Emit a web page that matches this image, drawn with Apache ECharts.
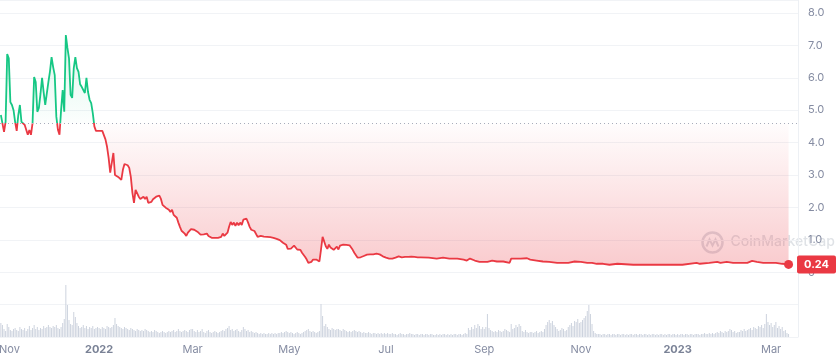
<!DOCTYPE html>
<html><head><meta charset="utf-8">
<script src="https://cdn.jsdelivr.net/npm/echarts@6/dist/echarts.min.js"></script>
<style>html,body{margin:0;padding:0;background:#fff}#c{width:836px;height:359px}</style>
</head><body><div id="c"></div>
<script>
// ---- data ----
const prices = [
['2021-10-31',4.85],['2021-11-01',4.9],['2021-11-02',4.33],['2021-11-03',4.65],['2021-11-04',6.73],['2021-11-05',6.6],
['2021-11-06',5.25],['2021-11-07',5.16],['2021-11-08',5.0],['2021-11-09',4.64],['2021-11-10',4.36],['2021-11-11',4.85],
['2021-11-12',5.16],['2021-11-13',4.64],['2021-11-14',4.6],['2021-11-15',4.55],['2021-11-16',4.55],['2021-11-17',4.24],
['2021-11-18',4.39],['2021-11-19',4.24],['2021-11-20',4.6],['2021-11-21',6.02],['2021-11-22',5.87],['2021-11-23',4.95],
['2021-11-24',5.07],['2021-11-25',5.5],['2021-11-26',6.0],['2021-11-27',5.56],['2021-11-28',5.16],['2021-11-29',5.22],
['2021-11-30',5.87],['2021-12-01',6.2],['2021-12-02',6.64],['2021-12-03',6.33],['2021-12-04',6.08],['2021-12-05',4.8],
['2021-12-06',4.4],['2021-12-07',4.24],['2021-12-08',5.0],['2021-12-09',5.62],['2021-12-10',4.95],['2021-12-11',7.32],
['2021-12-12',6.92],['2021-12-13',6.6],['2021-12-14',5.47],['2021-12-15',5.38],['2021-12-16',6.3],['2021-12-17',6.64],
['2021-12-18',6.3],['2021-12-19',6.18],['2021-12-20',5.8],['2021-12-21',5.72],['2021-12-22',5.78],['2021-12-23',5.53],
['2021-12-24',6.0],['2021-12-25',5.56],['2021-12-26',5.32],['2021-12-27',5.22],['2021-12-28',4.91],['2021-12-29',4.5],
['2021-12-30',4.36],['2021-12-31',4.36],['2022-01-01',4.36],['2022-01-02',4.36],['2022-01-03',4.36],['2022-01-04',4.3],
['2022-01-05',4.1],['2022-01-06',3.87],['2022-01-07',3.53],['2022-01-08',3.07],['2022-01-09',3.1],['2022-01-10',3.68],
['2022-01-11',3.0],['2022-01-12',2.97],['2022-01-13',2.94],['2022-01-14',3.0],['2022-01-15',2.85],['2022-01-16',3.16],
['2022-01-17',3.34],['2022-01-18',3.37],['2022-01-19',3.3],['2022-01-20',3.22],['2022-01-21',2.94],['2022-01-22',2.45],
['2022-01-23',2.14],['2022-01-24',2.54],['2022-01-25',2.6],['2022-01-26',2.33],['2022-01-27',2.26],['2022-01-28',2.3],
['2022-01-29',2.33],['2022-01-30',2.26],['2022-01-31',2.33],['2022-02-01',2.14],['2022-02-02',2.14],['2022-02-03',2.17],
['2022-02-04',2.25],['2022-02-05',2.3],['2022-02-06',2.33],['2022-02-07',2.35],['2022-02-08',2.36],['2022-02-09',2.26],
['2022-02-10',2.08],['2022-02-11',2.05],['2022-02-12',1.99],['2022-02-13',1.95],['2022-02-14',1.93],['2022-02-15',1.86],
['2022-02-16',1.93],['2022-02-17',1.77],['2022-02-18',1.72],['2022-02-19',1.68],['2022-02-20',1.53],['2022-02-21',1.4],
['2022-02-22',1.28],['2022-02-23',1.22],['2022-02-24',1.19],['2022-02-25',1.12],['2022-02-26',1.22],['2022-02-27',1.28],
['2022-02-28',1.33],['2022-03-01',1.37],['2022-03-02',1.31],['2022-03-03',1.27],['2022-03-04',1.25],['2022-03-05',1.22],
['2022-03-06',1.16],['2022-03-07',1.22],['2022-03-08',1.17],['2022-03-09',1.12],['2022-03-10',1.19],['2022-03-11',1.12],
['2022-03-12',1.08],['2022-03-13',1.06],['2022-03-14',1.06],['2022-03-15',1.06],['2022-03-16',1.06],['2022-03-17',1.06],
['2022-03-18',1.08],['2022-03-19',1.09],['2022-03-20',1.19],['2022-03-21',1.12],['2022-03-22',1.15],['2022-03-23',1.22],
['2022-03-24',1.4],['2022-03-25',1.55],['2022-03-26',1.46],['2022-03-27',1.53],['2022-03-28',1.43],['2022-03-29',1.53],
['2022-03-30',1.45],['2022-03-31',1.53],['2022-04-01',1.46],['2022-04-02',1.62],['2022-04-03',1.65],['2022-04-04',1.65],
['2022-04-05',1.53],['2022-04-06',1.4],['2022-04-07',1.31],['2022-04-08',1.28],['2022-04-09',1.27],['2022-04-10',1.25],
['2022-04-11',1.09],['2022-04-12',1.1],['2022-04-13',1.12],['2022-04-14',1.09],['2022-04-15',1.1],['2022-04-16',1.12],
['2022-04-17',1.09],['2022-04-18',1.06],['2022-04-19',1.08],['2022-04-20',1.09],['2022-04-21',1.06],['2022-04-22',1.05],
['2022-04-23',1.03],['2022-04-24',1.0],['2022-04-25',0.99],['2022-04-26',0.97],['2022-04-27',0.91],['2022-04-28',0.88],
['2022-04-29',0.85],['2022-04-30',0.72],['2022-05-01',0.72],['2022-05-02',0.73],['2022-05-03',0.75],['2022-05-04',0.82],
['2022-05-05',0.79],['2022-05-06',0.7],['2022-05-07',0.66],['2022-05-08',0.69],['2022-05-09',0.6],['2022-05-10',0.54],
['2022-05-11',0.47],['2022-05-12',0.39],['2022-05-13',0.29],['2022-05-14',0.31],['2022-05-15',0.32],['2022-05-16',0.39],
['2022-05-17',0.36],['2022-05-18',0.39],['2022-05-19',0.38],['2022-05-20',0.33],['2022-05-21',0.7],['2022-05-22',1.09],
['2022-05-23',0.95],['2022-05-24',0.8],['2022-05-25',0.72],['2022-05-26',0.85],['2022-05-27',0.76],['2022-05-28',0.72],
['2022-05-29',0.69],['2022-05-30',0.63],['2022-05-31',0.79],['2022-06-01',0.7],['2022-06-02',0.82],['2022-06-03',0.83],
['2022-06-04',0.85],['2022-06-05',0.82],['2022-06-06',0.84],['2022-06-07',0.85],['2022-06-08',0.83],['2022-06-09',0.82],
['2022-06-10',0.69],['2022-06-11',0.6],['2022-06-12',0.54],['2022-06-13',0.45],['2022-06-14',0.45],['2022-06-15',0.46],
['2022-06-16',0.48],['2022-06-17',0.5],['2022-06-18',0.52],['2022-06-19',0.54],['2022-06-20',0.53],['2022-06-21',0.55],
['2022-06-22',0.57],['2022-06-23',0.55],['2022-06-24',0.56],['2022-06-25',0.57],['2022-06-26',0.56],['2022-06-27',0.55],
['2022-06-28',0.52],['2022-06-29',0.49],['2022-06-30',0.47],['2022-07-01',0.45],['2022-07-02',0.44],['2022-07-03',0.42],
['2022-07-04',0.42],['2022-07-05',0.42],['2022-07-06',0.43],['2022-07-07',0.45],['2022-07-08',0.51],['2022-07-09',0.49],
['2022-07-10',0.48],['2022-07-11',0.46],['2022-07-12',0.45],['2022-07-13',0.47],['2022-07-14',0.48],['2022-07-15',0.47],
['2022-07-16',0.49],['2022-07-17',0.48],['2022-07-18',0.48],['2022-07-19',0.47],['2022-07-20',0.45],['2022-07-21',0.46],
['2022-07-22',0.47],['2022-07-23',0.46],['2022-07-24',0.45],['2022-07-28',0.45],['2022-08-02',0.42],['2022-08-06',0.45],
['2022-08-10',0.42],['2022-08-15',0.42],['2022-08-19',0.39],['2022-08-21',0.36],['2022-08-23',0.42],['2022-08-26',0.36],
['2022-08-29',0.32],['2022-09-03',0.32],['2022-09-06',0.36],['2022-09-09',0.33],['2022-09-13',0.33],['2022-09-17',0.29],
['2022-09-18',0.42],['2022-09-20',0.42],['2022-09-24',0.42],['2022-09-25',0.48],['2022-09-28',0.43],['2022-09-30',0.39],
['2022-10-04',0.36],['2022-10-08',0.33],['2022-10-12',0.32],['2022-10-17',0.29],['2022-10-21',0.29],['2022-10-24',0.29],
['2022-10-25',0.35],['2022-10-28',0.33],['2022-11-01',0.32],['2022-11-05',0.29],['2022-11-08',0.29],['2022-11-09',0.23],
['2022-11-11',0.26],['2022-11-15',0.26],['2022-11-19',0.23],['2022-11-24',0.26],['2022-12-04',0.23],['2022-12-14',0.23],
['2022-12-25',0.23],['2023-01-04',0.23],['2023-01-13',0.29],['2023-01-15',0.26],['2023-01-21',0.29],['2023-01-26',0.32],
['2023-01-28',0.29],['2023-02-01',0.32],['2023-02-05',0.29],['2023-02-09',0.29],['2023-02-14',0.29],['2023-02-17',0.35],
['2023-02-20',0.32],['2023-02-24',0.29],['2023-02-28',0.29],['2023-03-04',0.29],['2023-03-08',0.26],['2023-03-12',0.24]
];
const openPrice = 4.6;           // dotted reference line
const volumeStart = [2021, 10, 31]; // first daily volume bar (y, m, d)
const volumes = [
14,
12,8,6,13,10,7,6,8,9,7,6,10,8,7,9,6,8,11,7,9,12,8,10,7,9,8,11,9,10,12,
10,9,11,10,12,9,8,10,14,18,52,32,17,13,12,25,20,14,11,9,10,12,9,11,8,10,9,11,8,9,10,
9,8,10,9,8,11,10,9,10,12,19,13,11,10,9,8,10,9,8,7,9,8,7,6,8,7,6,7,6,8,7,
6,5,6,5,7,6,5,4,5,6,5,4,5,6,5,6,7,5,6,8,6,5,6,7,6,5,7,8,
8,6,5,7,5,6,8,5,4,6,7,5,4,5,6,5,4,5,6,7,6,8,9,11,7,8,6,7,8,6,5,
7,10,8,6,7,5,6,5,4,5,4,3,4,3,4,3,3,4,3,4,3,4,3,4,4,5,4,5,6,5,
4,5,4,3,4,5,4,3,4,5,6,7,8,6,5,6,5,4,5,6,33,21,11,13,10,8,7,9,8,7,8,
8,7,6,8,7,6,5,6,5,6,7,6,5,6,5,4,5,4,4,5,4,3,4,4,3,4,3,4,3,4,
3,4,3,3,4,3,3,2,3,4,3,3,2,3,3,4,3,3,2,3,3,2,3,3,2,3,3,2,3,3,2,
2,3,2,3,2,3,3,2,3,2,3,2,3,3,2,3,3,2,3,4,3,9,7,10,8,12,9,13,11,8,10,
8,10,23,9,7,6,5,6,5,7,6,5,6,8,7,6,5,13,8,9,12,10,13,11,6,5,7,5,4,5,
5,4,5,6,4,5,6,5,8,12,15,17,14,16,12,10,8,6,7,9,8,6,7,10,12,14,11,16,15,18,14,
15,17,19,21,26,32,23,13,6,4,3,3,3,2,3,3,2,3,3,2,3,3,2,3,3,2,3,3,2,3,
2,3,3,2,3,3,2,3,3,2,3,3,2,3,2,3,3,2,3,2,3,3,2,3,2,3,3,2,3,3,2,
3,2,3,3,2,3,3,2,3,3,2,3,3,3,2,3,3,4,3,3,4,3,4,3,4,5,4,6,5,4,6,
5,6,8,7,5,6,4,5,5,7,6,8,6,7,8,9,7,10,9,8,11,10,12,9,13,23,15,12,
14,10,12,15,9,11,8,10,6,7,4,3
];
const xTickDates = ['2021-11-01','2022-01-01','2022-03-01','2022-05-01','2022-07-01','2022-09-01','2022-11-01','2023-01-01','2023-03-01'];
const xTickLabels = ['Nov','2022','Mar','May','Jul','Sep','Nov','2023','Mar'];
const watermarkText = 'CoinMarketCap';

// ---- chart ----
const RED = '#ea3943', GREEN = '#16c784', GREY = '#858ca2';
const ts = s => { const p = s.split('-').map(Number); return new Date(p[0], p[1]-1, p[2]).getTime(); };
const tickTs = xTickDates.map(ts);
const volData = volumes.map((v, i) => [new Date(volumeStart[0], volumeStart[1]-1, volumeStart[2]+i).getTime(), v]);
const priceData = prices.map(p => [ts(p[0]), p[1]]);
const last = priceData[priceData.length - 1];
const vals = prices.map(p => p[1]);
const pMax = Math.max(...vals, openPrice), pMin = Math.min(...vals, openPrice);
const baseOff = (pMax - openPrice) / (pMax - pMin);

const chart = echarts.init(document.getElementById('c'), null, {renderer: 'canvas'});
chart.setOption({
  animation: false,
  backgroundColor: '#fff',
  textStyle: {fontFamily: 'Inter, "Noto Sans", sans-serif'},
  grid: {left: 0, right: 38, top: 0, bottom: 22, containLabel: false, outerBoundsMode: 'none'},
  visualMap: {
    show: false, seriesIndex: 0, dimension: 1,
    pieces: [{gt: -100, lte: openPrice, color: RED}, {gt: openPrice, lte: 100, color: GREEN}],
    outOfRange: {color: RED}
  },
  xAxis: {
    type: 'value',
    min: new Date(2021, 9, 30, 11).getTime(),
    max: new Date(2023, 2, 17, 23).getTime(),
    axisLine: {show: false}, axisTick: {show: false}, splitLine: {show: false},
    axisLabel: {
      customValues: tickTs,
      margin: 7, hideOverlap: false,
      color: GREY, fontSize: 11,
      formatter: v => {
        const i = tickTs.indexOf(v);
        const t = i < 0 ? '' : xTickLabels[i];
        if (/^\d{4}$/.test(t)) return '{y|' + t + '}';
        if (i === 0) return '{f|' + t + '}';
        return t;
      },
      rich: {
        y: {fontWeight: 'bold', color: '#7a8296', fontSize: 11},
        f: {color: GREY, fontSize: 11, padding: [0, 0, 0, 14]}
      }
    }
  },
  yAxis: [{
    type: 'value', position: 'right', min: -2, max: 8.4, interval: 1,
    axisLine: {show: true, lineStyle: {color: '#edf0f4'}},
    axisTick: {show: false},
    splitLine: {lineStyle: {color: '#f1f3f6'}},
    axisLabel: {
      color: GREY, fontSize: 11, margin: 10, showMaxLabel: false,
      formatter: v => (v < 0 || Math.abs(v - Math.round(v)) > 1e-6) ? '' : (v === 0 ? '0' : v.toFixed(1))
    },
    axisPointer: {
      show: true, status: 'show', value: last[1], snap: false, triggerTooltip: false,
      lineStyle: {opacity: 0},
      label: {
        show: true, backgroundColor: RED, color: '#fff', fontWeight: 'bold', fontSize: 11,
        padding: [4, 7, 3, 7], borderRadius: 2, margin: 0,
        formatter: p => Number(p.value).toFixed(2)
      }
    }
  }, {
    type: 'value', show: false, min: 0, max: 337, splitLine: {show: false}
  }],
  series: [{
    type: 'line', data: priceData, yAxisIndex: 0, showSymbol: false, z: 3,
    lineStyle: {width: 1.8},
    areaStyle: {
      origin: openPrice, opacity: 1,
      color: new echarts.graphic.LinearGradient(0, 0, 0, 1, [
        {offset: 0, color: 'rgba(22,199,132,0.16)'},
        {offset: baseOff, color: 'rgba(22,199,132,0.01)'},
        {offset: baseOff, color: 'rgba(234,57,67,0.01)'},
        {offset: 1, color: 'rgba(234,57,67,0.26)'}
      ])
    },
    markLine: {
      silent: true, symbol: 'none', label: {show: false},
      lineStyle: {color: '#a7adbb', type: [1, 3], width: 1},
      data: [{yAxis: openPrice}]
    },
    markPoint: {
      silent: true, symbol: 'circle', symbolSize: 9,
      itemStyle: {color: RED}, label: {show: false},
      data: [{coord: last}]
    }
  }, {
    type: 'custom', data: volData, yAxisIndex: 1, z: 1, silent: true,
    encode: {x: 0, y: 1},
    renderItem: (params, api) => {
      const p0 = api.coord([api.value(0), 0]);
      const p1 = api.coord([api.value(0), api.value(1)]);
      return {type: 'rect', shape: {x: p0[0] - 0.5, y: p1[1], width: 1, height: p0[1] - p1[1]},
              style: {fill: '#cdd3de'}};
    }
  }],
  graphic: [{
    type: 'group', left: 700, top: 230, z: 10, silent: true,
    children: [
      {type: 'circle', shape: {cx: 11, cy: 11, r: 10}, style: {fill: 'none', stroke: 'rgba(128,138,157,0.28)', lineWidth: 2.5}},
      {type: 'polyline', shape: {points: [[5, 15], [8, 8], [11, 14], [14, 8], [17, 15]]}, style: {fill: 'none', stroke: 'rgba(128,138,157,0.28)', lineWidth: 2}},
      {type: 'text', x: 29, y: 3, style: {text: watermarkText, fill: 'rgba(128,138,157,0.25)', font: '500 14px Inter, sans-serif'}}
    ]
  }]
});
</script></body></html>
